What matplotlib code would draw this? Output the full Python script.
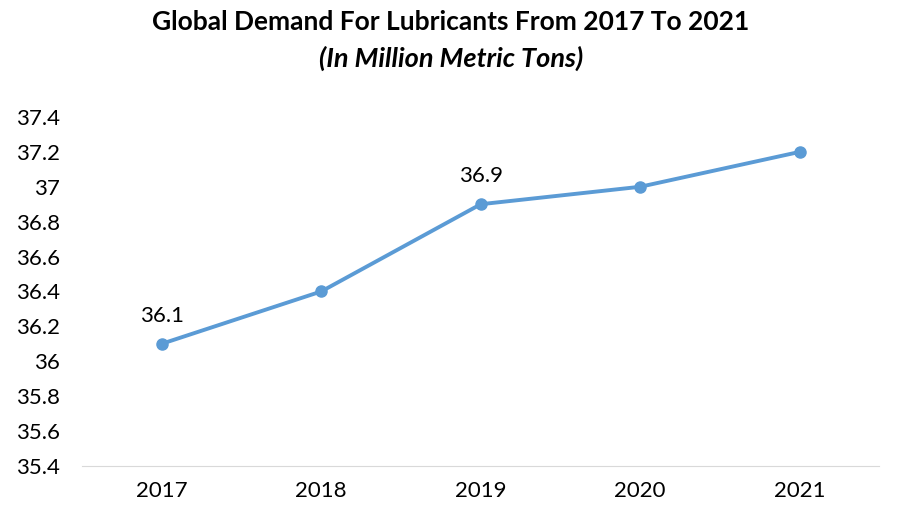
import matplotlib.pyplot as plt
from matplotlib.ticker import FuncFormatter

years = ['2017', '2018', '2019', '2020', '2021']
demand = [36.1, 36.4, 36.9, 37.0, 37.2]
labelled = {0: '36.1', 2: '36.9'}
yticks = [35.4, 35.6, 35.8, 36.0, 36.2, 36.4, 36.6, 36.8, 37.0, 37.2, 37.4]

plt.rcParams['font.family'] = ['Lato', 'DejaVu Sans']

fig = plt.figure(figsize=(9.02, 5.27), dpi=100)
ax = fig.add_axes([0.091, 0.116, 0.884, 0.662])

x = range(len(years))
ax.plot(x, demand, color='#5B9BD5', linewidth=2.8, marker='o', markersize=8)
for i, txt in labelled.items():
    ax.annotate(txt, (i, demand[i]), xytext=(0, 13), textcoords='offset points',
                ha='center', va='bottom', fontsize=16, color='black')

ax.set_xlim(-0.5, len(years) - 0.5)
ax.set_ylim(35.4, 37.4)
ax.set_yticks(yticks)
ax.yaxis.set_major_formatter(FuncFormatter(lambda v, p: f'{round(v, 1):g}'))
ax.set_xticks(list(x))
ax.set_xticklabels(years)
ax.tick_params(axis='both', length=0, labelsize=16)
ax.tick_params(axis='x', pad=11)
ax.tick_params(axis='y', pad=16)

for s in ['top', 'right', 'left']:
    ax.spines[s].set_visible(False)
ax.spines['bottom'].set_color('#D9D9D9')

fig.text(0.5, 0.958, 'Global Demand For Lubricants From 2017 To 2021',
         ha='center', va='center', fontsize=19, fontweight='bold')
fig.text(0.5, 0.89, '(In Million Metric Tons)', ha='center', va='center',
         fontsize=19.5, fontweight='bold', style='italic')

fig.savefig('out.png', dpi=100)
